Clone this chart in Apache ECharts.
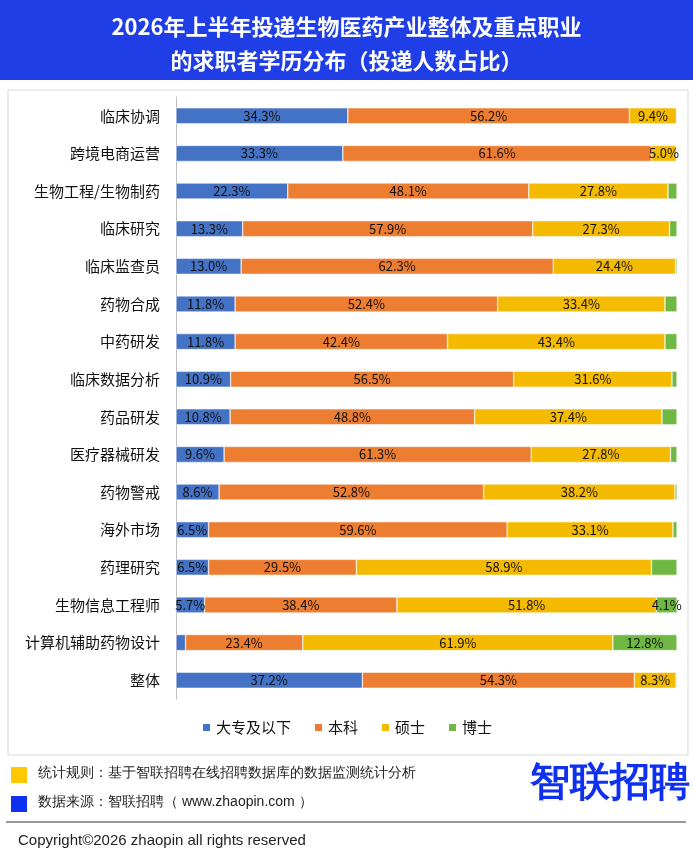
<!DOCTYPE html>
<html><head><meta charset="utf-8">
<script src="https://cdn.jsdelivr.net/npm/echarts@6/dist/echarts.min.js"></script>
<style>body{margin:0;background:#fff}#c{width:693px;height:858px}</style>
</head><body><div id="c"></div>
<script>
var categories = ['临床协调','跨境电商运营','生物工程/生物制药','临床研究','临床监查员','药物合成','中药研发','临床数据分析','药品研发','医疗器械研发','药物警戒','海外市场','药理研究','生物信息工程师','计算机辅助药物设计','整体'];
var dazhuan = [34.3,33.3,22.3,13.3,13.0,11.8,11.8,10.9,10.8,9.6,8.6,6.5,6.5,5.7,1.9,37.2];
var benke = [56.2,61.6,48.1,57.9,62.3,52.4,42.4,56.5,48.8,61.3,52.8,59.6,29.5,38.4,23.4,54.3];
var shuoshi = [9.4,5.0,27.8,27.3,24.4,33.4,43.4,31.6,37.4,27.8,38.2,33.1,58.9,51.8,61.9,8.3];
var boshi = [0.1,0.1,1.8,1.5,0.3,2.4,2.4,1.0,3.0,1.3,0.4,0.8,5.1,4.1,12.8,0.2];
// 原图中未标注数值的条目
var hiddenBoshi = ['药理研究'];

var chart = echarts.init(document.getElementById('c'));
function ser(name, data, color, hidden) {
	return {
		name: name, type: 'bar', stack: 'a', barWidth: 16,
		data: data.map(function(v, i) {
			var o = {value: v};
			if (hidden && hidden.indexOf(categories[i]) >= 0) o.label = {show: false};
			return o;
		}),
		itemStyle: {color: color, borderColor: '#fff', borderWidth: 0.5},
		label: {
			show: true, position: 'inside', color: '#111', fontSize: 13,
			formatter: function(p){ return p.value >= 4 ? p.value.toFixed(1) + '%' : ''; }
		}
	};
}
chart.setOption({
	animation: false,
	textStyle: {fontFamily: 'Noto Sans CJK SC'},
	title: {
		text: '2026年上半年投递生物医药产业整体及重点职业\n的求职者学历分布（投递人数占比）',
		left: 'center', top: 5,
		textStyle: {color: '#fff', fontSize: 22, fontWeight: 'bold', lineHeight: 34}
	},
	graphic: [
		{type: 'rect', z: -1, shape: {x: 0, y: 0, width: 693, height: 80}, style: {fill: '#1f3ee6'}},
		{type: 'rect', shape: {x: 8, y: 90, width: 680, height: 665}, style: {fill: 'none', stroke: '#d9d9d9', lineWidth: 1}},
		{type: 'rect', shape: {x: 11, y: 767, width: 16, height: 16}, style: {fill: '#ffc800'}},
		{type: 'rect', shape: {x: 11, y: 796, width: 16, height: 16}, style: {fill: '#1030f0'}},
		{type: 'text', left: 38, top: 766, style: {text: '统计规则：基于智联招聘在线招聘数据库的数据监测统计分析', fontSize: 14, fill: '#222'}},
		{type: 'text', left: 38, top: 795, style: {text: '数据来源：智联招聘（ www.zhaopin.com ）', fontSize: 14, fill: '#222'}},
		{type: 'text', left: 530, top: 764, style: {text: '智联招聘', fontSize: 40, fontWeight: 'bold', fill: '#1030f0'}},
		{type: 'line', shape: {x1: 6, y1: 822, x2: 686, y2: 822}, style: {stroke: '#333', lineWidth: 1}},
		{type: 'text', left: 18, top: 833, style: {text: 'Copyright©2026 zhaopin all rights reserved', fontSize: 15, fill: '#222'}}
	],
	legend: {
		data: ['大专及以下','本科','硕士','博士'], bottom: 118, left: 'center',
		itemWidth: 9, itemHeight: 9, icon: 'rect', itemGap: 22,
		textStyle: {fontSize: 15, color: '#111'}
	},
	grid: {left: 176, right: 16, top: 97, bottom: 159},
	xAxis: {type: 'value', min: 0, max: 100, show: false},
	yAxis: {
		type: 'category', data: categories, inverse: true,
		axisTick: {show: false},
		axisLine: {lineStyle: {color: '#bfbfbf'}},
		axisLabel: {fontSize: 15, color: '#111', margin: 16}
	},
	series: [
		ser('大专及以下', dazhuan, '#4472C4'),
		ser('本科', benke, '#ED7D31'),
		ser('硕士', shuoshi, '#F4BA00'),
		ser('博士', boshi, '#70B844', hiddenBoshi)
	]
});
</script></body></html>
